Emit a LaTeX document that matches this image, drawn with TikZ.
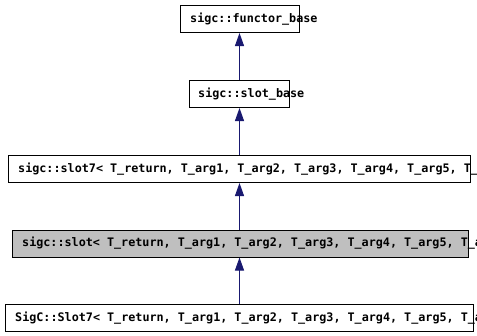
\documentclass[tikz,border=0pt]{standalone}
\usepackage{fontspec}
\setmonofont{DejaVu Sans Mono}
\usetikzlibrary{arrows.meta}
\definecolor{edgeblue}{HTML}{191970}
\definecolor{boxgray}{HTML}{BFBFBF}
\tikzset{
  classbox/.style={draw=black, line width=1pt, fill=white, inner sep=0pt, anchor=north west},
  current/.style={fill=boxgray},
  classname/.style={inner sep=0pt, anchor=west, font=\ttfamily\bfseries\fontsize{11.75}{13}\selectfont, text=black},
  inherit/.style={draw=edgeblue, line width=1pt, -{Triangle[length=13pt, width=9pt]}}
}
\begin{document}
\begin{tikzpicture}[x=1pt, y=1pt]
  \useasboundingbox (0,0) rectangle (477,-335);
  \clip (0,0) rectangle (477,-335);
  % class boxes (top-left corner, size)
  \node[classbox, minimum width=119pt, minimum height=27pt] (functor) at (180,-5) {};
  \node[classbox, minimum width=100pt, minimum height=27pt] (slotbase) at (189,-80) {};
  \node[classbox, minimum width=462pt, minimum height=27pt] (slotseven) at (8,-155) {};
  \node[classbox, current, minimum width=456pt, minimum height=27pt] (slot) at (12,-229.5) {};
  \node[classbox, minimum width=468pt, minimum height=27pt] (compat) at (5,-304) {};
  % class names
  \node[classname] (functortxt) at ([xshift=10pt]functor.west) {sigc::functor\_base};
  \node[classname] (slotbasetxt) at ([xshift=9pt]slotbase.west) {sigc::slot\_base};
  \node[classname] (slotseventxt) at ([xshift=10pt]slotseven.west) {sigc::slot7< T\_return, T\_arg1, T\_arg2, T\_arg3, T\_arg4, T\_arg5, T\_arg6, T\_arg7 >};
  \node[classname] (slottxt) at ([xshift=10pt]slot.west) {sigc::slot< T\_return, T\_arg1, T\_arg2, T\_arg3, T\_arg4, T\_arg5, T\_arg6, T\_arg7 >};
  \node[classname] (compattxt) at ([xshift=10pt]compat.west) {SigC::Slot7< T\_return, T\_arg1, T\_arg2, T\_arg3, T\_arg4, T\_arg5, T\_arg6, T\_arg7 >};
  % inheritance edges
  \draw[inherit] (slotbase.north) -- (slotbase.north |- functor.south);
  \draw[inherit] (slotseven.north -| slotbase.north) -- (slotbase.south);
  \draw[inherit] (slot.north -| slotbase.north) -- (slotseven.south -| slotbase.north);
  \draw[inherit] (compat.north -| slotbase.north) -- (slot.south -| slotbase.north);
\end{tikzpicture}
\end{document}
